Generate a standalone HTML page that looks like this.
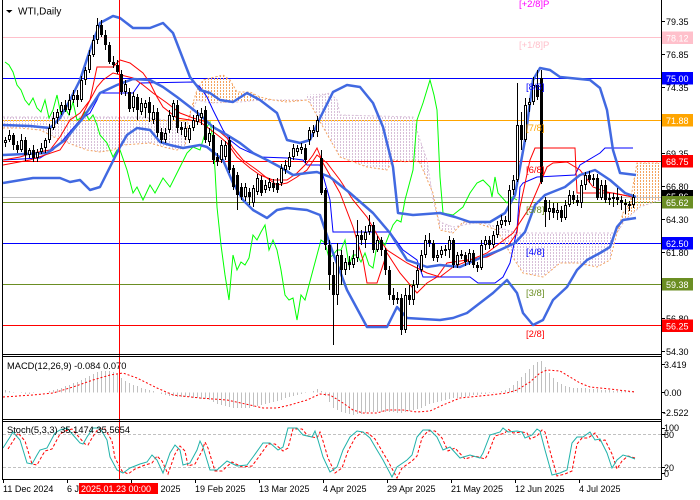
<!DOCTYPE html>
<html><head><meta charset="utf-8"><style>
html,body{margin:0;padding:0;background:#fff;}
svg{display:block;}
text{font-family:"Liberation Sans",sans-serif;}
</style></head><body>
<svg width="700" height="500" viewBox="0 0 700 500" xmlns="http://www.w3.org/2000/svg">
<defs>
<clipPath id="cm"><rect x="3" y="0" width="658" height="354"/></clipPath>
<clipPath id="cs"><rect x="3" y="422" width="658" height="57"/></clipPath>
<pattern id="pt" width="3" height="3" patternUnits="userSpaceOnUse"><rect x="1" y="0" width="1" height="2" fill="#d8bfd8"/></pattern>
<pattern id="po" width="3" height="3" patternUnits="userSpaceOnUse"><rect x="1" y="0" width="1" height="2" fill="#f4a460"/></pattern>
</defs>
<rect width="700" height="500" fill="#fff"/>

<g clip-path="url(#cm)">
<g stroke-width="1" shape-rendering="crispEdges">
<line x1="3" x2="661" y1="37.5" y2="37.5" stroke="#ffc0cb"/>
<line x1="3" x2="661" y1="78.5" y2="78.5" stroke="#0000ff"/>
<line x1="3" x2="661" y1="120.5" y2="120.5" stroke="#ffa500"/>
<line x1="3" x2="661" y1="161.5" y2="161.5" stroke="#ff0000"/>
<line x1="3" x2="661" y1="197.5" y2="197.5" stroke="#c0c0c0"/>
<line x1="3" x2="661" y1="202.5" y2="202.5" stroke="#6b8e23"/>
<line x1="3" x2="661" y1="243.5" y2="243.5" stroke="#0000ff"/>
<line x1="3" x2="661" y1="284.5" y2="284.5" stroke="#6b8e23"/>
<line x1="3" x2="661" y1="325.5" y2="325.5" stroke="#ff0000"/>
</g>
<!-- clouds -->
<polygon fill="url(#pt)" points="3,117 143,117 165,120 187,122 185,147 177,150 167,148 150,143 123,145 113,150 100,152 87,150 60,140 40,130 20,128 3,128"/>
<polygon fill="url(#po)" points="188,123 190,113 197,90 203,80 223,75 230,80 237,92 250,92 260,97 273,100 287,102 307,100 260,100 240,102 210,103 197,100"/>
<polygon fill="url(#pt)" points="305,95 330,93 337,100 340,115 413,117 420,140 427,160 433,200 437,215 440,222 440,230 433,193 420,163 413,160 407,162 393,160 387,170 367,167 340,157 323,127 310,103"/>
<polygon fill="url(#pt)" points="440,222 453,227 480,222 517,233 617,233 610,260 597,267 577,263 560,263 543,277 523,273 510,253 497,230 477,223 463,222 453,233 440,230"/>
<polygon fill="url(#po)" points="617,233 623,213 630,203 637,163 660,163 660,200 640,207 625,220"/>
<g fill="none" stroke-dasharray="2,2" stroke-width="1">
<polyline stroke="#d8bfd8" points="3,117 143,117 165,120 187,122 197,100 210,103 240,102 260,100 307,100 330,93 337,100 340,115 413,117 420,140 427,160 433,200 437,215 440,222 453,227 480,222 517,233 617,233 625,220 640,207 660,200"/>
<polyline stroke="#f4a460" points="3,128 20,128 40,130 60,140 87,150 100,152 113,150 123,145 150,143 167,148 177,150 185,147 188,123 190,113 197,90 203,80 223,75 230,80 237,92 250,92 260,97 273,100 287,102 307,100 310,103 323,127 340,157 367,167 387,170 393,160 407,162 413,160 420,163 433,193 440,230 453,233 463,222 477,223 497,230 510,253 523,273 543,277 560,263 577,263 597,267 610,260 617,233 623,213 630,203 637,163 660,163"/>
</g>
<!-- chikou -->
<polyline fill="none" stroke="#00ff00" stroke-width="1" points="5,62 9,65 13,72 17,85 21,90 25,100 29,105 33,98 37,108 41,112 45,100 49,118 53,110 57,95 61,115 65,108 69,115 73,102 77,120 81,118 85,112 89,120 93,115 97,125 100,135 107,143 113,157 117,150 120,150 127,170 133,193 137,187 143,200 150,185 155,193 163,178 170,187 180,167 187,153 193,147 200,150 207,127 210,122 213,140 215,170 217,207 221,245 225,275 229,300 233,255 237,270 241,262 245,265 249,258 253,235 257,240 261,232 265,225 269,250 273,240 277,250 281,270 285,295 289,300 293,298 297,320 301,295 305,300 309,285 313,270 317,255 321,240 325,243 329,258 333,255 337,250 341,250 345,240 349,265 353,255 357,255 361,262 365,253 369,265 373,268 377,245 381,240 385,245 389,235 393,225 397,220 401,222 405,200 409,185 413,170 417,120 423,103 430,80 434,95 437,110 440,177 443,213 453,215 463,207 470,193 477,183 483,180 490,187 492,197 495,177 498,193 507,203 512,197 517,200"/>
<!-- thin lines -->
<g fill="none" stroke-width="1">
<polyline stroke="#0000ff" points="3,160 40,158 53,150 63,140 80,120 90,113 97,100 100,93 133,93 140,83 193,82 200,87 207,97 213,110 223,130 230,140 240,148 260,157 287,158 303,160 307,165 320,165 330,200 333,232 390,232 403,250 417,260 423,277 470,277 478,283 495,283 503,277 510,263 517,230 520,187 523,183 537,177 575,175 580,165 600,153 605,148 633,148"/>
<polyline stroke="#ff0000" points="3,160 20,157 33,153 50,150 60,137 70,120 80,113 90,100 97,67 113,67 120,60 130,63 143,73 150,83 157,97 163,107 177,118 190,120 200,122 207,127 220,137 227,143 237,157 250,168 260,175 273,180 287,180 297,173 307,163 313,155 317,148 323,163 340,193 353,227 363,260 367,283 377,283 387,253 400,273 417,293 427,283 437,277 447,263 487,257 507,247 517,233 520,207 530,160 535,148 575,148 577,193 613,193 633,197"/>
<polyline stroke="#ff0000" points="3,165 30,160 60,150 80,120 90,100 97,87 103,80 113,73 133,78 143,85 153,93 167,103 180,113 193,118 207,122 220,132 227,138 233,148 243,160 257,170 267,178 277,185 287,183 297,177 307,170 317,155 327,163 340,180 353,200 367,217 380,240 387,250 407,263 427,273 440,277 453,267 487,253 513,233 530,207 547,167 553,163 567,162 580,170 593,187 607,192 633,197"/>
</g>
<!-- bollinger -->
<g fill="none" stroke="#4169e1" stroke-width="2.5" stroke-linejoin="round">
<polyline points="3,125 30,126 50,128 60,118 70,100 80,80 90,50 100,23 113,16 120,18 133,28 150,28 163,23 173,33 190,77 200,90 210,93 220,100 233,102 247,93 260,100 277,113 287,140 300,143 310,140 320,118 333,92 347,85 360,87 373,103 383,127 393,167 398,213 413,215 440,213 455,217 470,222 490,222 505,213 515,195 525,140 533,80 540,68 550,70 560,77 590,80 600,88 607,110 613,150 620,173 636,175"/>
<polyline points="3,155 47,153 65,140 83,118 100,93 117,85 133,79 150,80 163,87 177,97 190,107 200,115 213,127 227,135 240,143 253,153 267,160 280,167 293,175 307,173 317,172 330,177 350,193 373,213 390,233 407,260 427,267 440,265 460,267 480,258 500,250 515,243 525,232 535,205 545,195 565,187 580,175 595,170 610,180 625,193 636,197"/>
<polyline points="3,183 33,178 60,178 70,182 80,180 90,190 100,187 110,167 120,147 127,135 137,128 150,130 160,142 170,145 183,148 200,145 207,147 223,160 233,183 243,200 253,210 267,218 277,210 287,208 307,210 320,215 333,253 347,290 367,327 387,327 397,307 407,318 440,320 453,318 467,313 480,303 493,293 507,280 517,293 523,313 533,325 543,320 553,300 567,287 577,270 587,260 600,253 610,247 617,227 623,220 636,218"/>
</g>
<!-- candles -->
<path fill="none" stroke="#000" stroke-width="1" d="M5.5,137V147M9.5,130V142M13.5,133V150M17.5,141V153M21.5,134V152M25.5,137V161M29.5,148V158M33.5,145V162M37.5,149V162M41.5,143V154M45.5,138V153M49.5,124V143M53.5,112V130M57.5,109V124M61.5,102V115M65.5,100V112M69.5,94V115M73.5,90V103M77.5,90V107M81.5,76V102M85.5,67V85M89.5,50V73M93.5,35V57M97.5,18V44M101.5,20V37M105.5,30V50M109.5,42V64M113.5,56V68M117.5,60V74M121.5,70V95M125.5,80V96M129.5,88V112M133.5,92V112M137.5,94V120M141.5,98V115M145.5,100V118M149.5,97V122M153.5,105V124M157.5,108V137M161.5,128V143M165.5,128V143M169.5,110V133M173.5,100V120M177.5,100V133M181.5,122V135M185.5,122V140M189.5,125V143M193.5,115V131M197.5,110V125M201.5,108V125M205.5,106V143M209.5,128V146M213.5,125V164M217.5,153V166M221.5,140V163M225.5,141V160M229.5,137V173M233.5,165V190M237.5,172V210M241.5,183V200M245.5,183V201M249.5,188V205M253.5,185V207M257.5,174V195M261.5,176V196M265.5,180V193M269.5,178V191M273.5,179V192M277.5,178V193M281.5,164V186M285.5,160V174M289.5,152V170M293.5,144V160M297.5,145V156M301.5,143V154M305.5,144V163M309.5,127V145M313.5,125V137M317.5,116V137M321.5,150V195M325.5,188V250M329.5,240V290M333.5,262V345M337.5,243V305M341.5,250V285M345.5,258V275M349.5,256V270M353.5,250V268M357.5,220V262M361.5,230V245M365.5,226V248M369.5,215V235M373.5,222V253M377.5,236V252M381.5,237V256M385.5,248V275M389.5,266V300M393.5,288V305M397.5,292V304M401.5,294V335M405.5,288V333M409.5,285V305M413.5,280V305M417.5,265V288M421.5,250V272M425.5,235V258M429.5,233V247M433.5,240V261M437.5,250V262M441.5,246V258M445.5,245V256M449.5,236V258M453.5,238V268M457.5,252V268M461.5,250V259M465.5,252V266M469.5,249V265M473.5,250V268M477.5,262V272M481.5,240V270M485.5,236V250M489.5,236V249M493.5,231V248M497.5,221V238M501.5,215V228M505.5,216V226M509.5,185V225M513.5,175V195M517.5,83V182M521.5,112V150M525.5,98V142M529.5,98V112M533.5,77V105M537.5,70V100M541.5,70V184M545.5,197V227M549.5,200V220M553.5,203V218M557.5,203V220M561.5,206V222M565.5,200V220M569.5,190V207M573.5,191V204M577.5,195V206M581.5,180V208M585.5,172V190M589.5,171V183M593.5,174V186M597.5,174V200M601.5,180V200M605.5,180V203M609.5,193V205M613.5,193V207M617.5,188V205M621.5,196V210M625.5,199V214M629.5,201V211M633.5,194V208"/>
<path fill="#000" d="M12,135h3v10h-3zM16,145h3v5h-3zM24,140h3v15h-3zM32,150h3v8h-3zM64,105h3v5h-3zM76,95h3v5h-3zM100,25h3v10h-3zM104,35h3v10h-3zM108,45h3v17h-3zM112,62h3v3h-3zM116,65h3v7h-3zM120,74h3v18h-3zM128,92h3v17h-3zM136,97h3v13h-3zM148,102h3v11h-3zM156,112h3v21h-3zM160,132h3v8h-3zM176,105h3v23h-3zM180,127h3v3h-3zM204,110h3v30h-3zM212,135h3v25h-3zM216,157h3v5h-3zM228,140h3v30h-3zM232,168h3v19h-3zM236,175h3v20h-3zM240,187h3v10h-3zM248,192h3v5h-3zM260,180h3v13h-3zM272,183h3v5h-3zM276,183h3v7h-3zM304,148h3v12h-3zM320,158h3v35h-3zM324,190h3v55h-3zM328,245h3v30h-3zM332,275h3v20h-3zM340,255h3v15h-3zM348,262h3v3h-3zM360,235h3v5h-3zM372,225h3v25h-3zM380,240h3v10h-3zM384,250h3v20h-3zM388,270h3v25h-3zM392,295h3v5h-3zM400,298h3v32h-3zM408,295h3v5h-3zM428,240h3v3h-3zM432,243h3v15h-3zM444,249h3v2h-3zM452,240h3v25h-3zM460,254h3v2h-3zM464,255h3v7h-3zM472,253h3v12h-3zM476,265h3v3h-3zM488,240h3v5h-3zM504,220h3v2h-3zM520,125h3v15h-3zM536,85h3v12h-3zM540,78h3v104h-3zM544,200h3v12h-3zM552,208h3v5h-3zM560,210h3v8h-3zM572,195h3v5h-3zM576,200h3v3h-3zM588,175h3v5h-3zM596,178h3v20h-3zM604,185h3v15h-3zM612,197h3v2h-3zM616,197h3v3h-3zM620,200h3v3h-3zM624,203h3v2h-3zM628,204h3v2h-3z"/>
<path fill="#fff" stroke="#000" stroke-width="1" d="M4.5,140.5h2v2h-2zM8.5,135.5h2v4h-2zM20.5,140.5h2v9h-2zM28.5,150.5h2v4h-2zM36.5,152.5h2v5h-2zM40.5,148.5h2v3h-2zM44.5,140.5h2v7h-2zM48.5,128.5h2v11h-2zM52.5,118.5h2v9h-2zM56.5,112.5h2v5h-2zM60.5,105.5h2v6h-2zM68.5,100.5h2v9h-2zM72.5,95.5h2v4h-2zM80.5,80.5h2v19h-2zM84.5,70.5h2v9h-2zM88.5,55.5h2v14h-2zM92.5,40.5h2v14h-2zM96.5,25.5h2v14h-2zM124.5,84.5h2v7h-2zM132.5,96.5h2v11h-2zM140.5,103.5h2v8h-2zM144.5,103.5h2v4h-2zM152.5,112.5h2v7h-2zM164.5,133.5h2v6h-2zM168.5,115.5h2v14h-2zM172.5,103.5h2v13h-2zM184.5,128.5h2v8h-2zM188.5,128.5h2v11h-2zM192.5,120.5h2v7h-2zM196.5,115.5h2v6h-2zM200.5,113.5h2v4h-2zM208.5,133.5h2v8h-2zM220.5,145.5h2v14h-2zM224.5,145.5h2v11h-2zM244.5,187.5h2v9h-2zM252.5,188.5h2v14h-2zM256.5,178.5h2v13h-2zM264.5,185.5h2v4h-2zM268.5,182.5h2v5h-2zM280.5,168.5h2v14h-2zM284.5,165.5h2v4h-2zM288.5,157.5h2v9h-2zM292.5,148.5h2v8h-2zM296.5,148.5h2v3h-2zM300.5,147.5h2v2h-2zM308.5,130.5h2v9h-2zM312.5,130.5h2v2h-2zM316.5,120.5h2v11h-2zM336.5,255.5h2v39h-2zM344.5,262.5h2v7h-2zM352.5,258.5h2v6h-2zM356.5,235.5h2v22h-2zM364.5,232.5h2v7h-2zM368.5,225.5h2v6h-2zM376.5,240.5h2v9h-2zM396.5,298.5h2v1h-2zM404.5,295.5h2v34h-2zM412.5,285.5h2v14h-2zM416.5,270.5h2v14h-2zM420.5,255.5h2v14h-2zM424.5,240.5h2v14h-2zM436.5,255.5h2v2h-2zM440.5,250.5h2v4h-2zM448.5,240.5h2v9h-2zM456.5,255.5h2v9h-2zM468.5,253.5h2v8h-2zM480.5,245.5h2v22h-2zM484.5,240.5h2v4h-2zM492.5,235.5h2v9h-2zM496.5,225.5h2v9h-2zM500.5,220.5h2v4h-2zM508.5,190.5h2v31h-2zM512.5,180.5h2v9h-2zM516.5,125.5h2v54h-2zM524.5,105.5h2v34h-2zM528.5,102.5h2v2h-2zM532.5,85.5h2v16h-2zM548.5,208.5h2v3h-2zM556.5,210.5h2v2h-2zM564.5,205.5h2v12h-2zM568.5,195.5h2v9h-2zM580.5,185.5h2v17h-2zM584.5,175.5h2v9h-2zM592.5,178.5h2v1h-2zM600.5,185.5h2v12h-2zM608.5,198.5h2v1h-2zM632.5,197.5h2v7h-2z"/>
<g font-size="9.5">
<text x="519" y="7" fill="#ff00ff">[+2/8]P</text>
<text x="519" y="48" fill="#ffc0cb">[+1/8]P</text>
<text x="526" y="90" fill="#0000ff">[8/8]</text>
<text x="526" y="131" fill="#ffa500">[7/8]</text>
<text x="526" y="173" fill="#ff0000">[6/8]</text>
<text x="526" y="213" fill="#6b8e23">[5/8]</text>
<text x="526" y="255" fill="#0000ff">[4/8]</text>
<text x="526" y="296" fill="#6b8e23">[3/8]</text>
<text x="526" y="337" fill="#ff0000">[2/8]</text>
</g>
</g>

<polygon points="6,10 12.5,10 9.25,13" fill="#000"/>
<text x="18" y="14.5" font-size="10" fill="#000">WTI,Daily</text>

<!-- MACD -->
<path fill="none" stroke="#c0c0c0" stroke-width="1" d="M5.5,392.5V390M9.5,392.5V391M13.5,392.5V392M21.5,392.5V393M25.5,392.5V394M29.5,392.5V394M33.5,392.5V393M49.5,392.5V391M53.5,392.5V390M57.5,392.5V389M61.5,392.5V388M65.5,392.5V386M69.5,392.5V385M73.5,392.5V383M77.5,392.5V382M81.5,392.5V380M85.5,392.5V378M89.5,392.5V376M93.5,392.5V374M97.5,392.5V372M101.5,392.5V371M105.5,392.5V371M109.5,392.5V371M113.5,392.5V372M117.5,392.5V374M121.5,392.5V378M125.5,392.5V381M129.5,392.5V383M133.5,392.5V385M137.5,392.5V386M141.5,392.5V388M145.5,392.5V389M149.5,392.5V390M153.5,392.5V391M161.5,392.5V394M165.5,392.5V395M169.5,392.5V396M173.5,392.5V396M177.5,392.5V397M181.5,392.5V397M185.5,392.5V397M189.5,392.5V397M193.5,392.5V398M197.5,392.5V398M201.5,392.5V399M205.5,392.5V399M209.5,392.5V400M213.5,392.5V402M217.5,392.5V404M221.5,392.5V405M225.5,392.5V406M229.5,392.5V407M233.5,392.5V408M237.5,392.5V408M241.5,392.5V408M245.5,392.5V408M249.5,392.5V408M253.5,392.5V407M257.5,392.5V406M261.5,392.5V405M265.5,392.5V404M269.5,392.5V403M273.5,392.5V402M277.5,392.5V401M281.5,392.5V400M285.5,392.5V398M289.5,392.5V397M293.5,392.5V396M297.5,392.5V395M301.5,392.5V394M305.5,392.5V393M313.5,392.5V391M317.5,392.5V389M321.5,392.5V391M325.5,392.5V396M329.5,392.5V402M333.5,392.5V408M337.5,392.5V410M341.5,392.5V412M345.5,392.5V413M349.5,392.5V414M353.5,392.5V415M357.5,392.5V414M361.5,392.5V414M365.5,392.5V413M369.5,392.5V412M373.5,392.5V412M377.5,392.5V412M381.5,392.5V412M385.5,392.5V412M389.5,392.5V412M393.5,392.5V412M397.5,392.5V413M401.5,392.5V413M405.5,392.5V412M409.5,392.5V411M413.5,392.5V410M417.5,392.5V409M421.5,392.5V408M425.5,392.5V406M429.5,392.5V404M433.5,392.5V403M437.5,392.5V402M441.5,392.5V401M445.5,392.5V400M449.5,392.5V399M453.5,392.5V398M457.5,392.5V398M461.5,392.5V397M465.5,392.5V397M469.5,392.5V396M473.5,392.5V395M477.5,392.5V395M481.5,392.5V394M485.5,392.5V394M489.5,392.5V393M493.5,392.5V393M501.5,392.5V391M505.5,392.5V390M509.5,392.5V388M513.5,392.5V385M517.5,392.5V381M521.5,392.5V377M525.5,392.5V373M529.5,392.5V369M533.5,392.5V365M537.5,392.5V362M541.5,392.5V361M545.5,392.5V367M549.5,392.5V373M553.5,392.5V378M557.5,392.5V382M561.5,392.5V384M565.5,392.5V386M569.5,392.5V387M573.5,392.5V388M577.5,392.5V388M581.5,392.5V388M585.5,392.5V388M589.5,392.5V389M593.5,392.5V389M597.5,392.5V389M601.5,392.5V390M605.5,392.5V390M609.5,392.5V390M613.5,392.5V391M617.5,392.5V391M621.5,392.5V391M625.5,392.5V391M629.5,392.5V391M633.5,392.5V391"/>
<polyline fill="none" stroke="#ff0000" stroke-width="1" stroke-dasharray="2,2" points="3,397 33,395 53,393 73,387 93,380 110,375 123,373 137,378 157,388 173,395 200,398 227,400 250,405 263,408 277,408 290,405 307,400 320,394 330,395 343,403 353,410 363,413 377,413 387,410 403,410 417,412 430,411 443,405 460,398 480,396 490,395 507,393 517,390 530,382 540,373 547,370 560,371 570,377 580,383 590,387 610,389 635,392"/>
<text x="7" y="369" font-size="9.3" fill="#000">MACD(12,26,9) -0.084 0.070</text>

<!-- Stoch -->
<g stroke="#c0c0c0" stroke-width="1" stroke-dasharray="3,2" shape-rendering="crispEdges">
<line x1="3" x2="661" y1="434.5" y2="434.5"/>
<line x1="3" x2="661" y1="467.5" y2="467.5"/>
</g>
<g clip-path="url(#cs)" fill="none" stroke-width="1">
<polyline stroke="#ff0000" stroke-dasharray="3,2" transform="translate(5,1)" points="3,448 10,437 13,432 20,440 27,463 32,464 37,455 40,450 47,448 55,433 60,430 67,428 73,435 80,443 83,444 87,437 93,428 100,428 107,440 110,457 117,470 123,473 130,468 140,464 147,462 152,455 157,460 163,473 170,453 175,445 180,450 183,465 190,463 197,450 200,441 203,447 210,470 217,470 227,461 237,466 247,465 253,457 263,443 270,443 278,450 283,447 288,428 297,428 303,435 312,437 315,431 318,440 323,457 330,472 337,467 343,450 350,437 357,431 363,432 370,438 377,450 383,460 392,477 397,467 407,460 412,455 417,437 423,430 430,430 437,437 443,450 450,447 460,458 470,455 480,458 483,453 490,435 500,432 503,428 508,432 517,431 522,432 525,438 532,435 537,429 540,431 545,450 552,475 560,473 567,470 572,443 577,437 583,437 590,432 595,440 600,439 607,453 612,468 617,460 623,455 630,457"/>
<polyline stroke="#20b2aa" points="3,448 10,437 13,432 20,440 27,463 32,464 37,455 40,450 47,448 55,433 60,430 67,428 73,435 80,443 83,444 87,437 93,428 100,428 107,440 110,457 117,470 123,473 130,468 140,464 147,462 152,455 157,460 163,473 170,453 175,445 180,450 183,465 190,463 197,450 200,441 203,447 210,470 217,470 227,461 237,466 247,465 253,457 263,443 270,443 278,450 283,447 288,428 297,428 303,435 312,437 315,431 318,440 323,457 330,472 337,467 343,450 350,437 357,431 363,432 370,438 377,450 383,460 392,477 397,467 407,460 412,455 417,437 423,430 430,430 437,437 443,450 450,447 460,458 470,455 480,458 483,453 490,435 500,432 503,428 508,432 517,431 522,432 525,438 532,435 537,429 540,431 545,450 552,475 560,473 567,470 572,443 577,437 583,437 590,432 595,440 600,439 607,453 612,468 617,460 623,455 630,457 635,459"/>
</g>
<text x="7" y="433" font-size="9.3" fill="#000">Stoch(5,3,3) 35.1474 35.5654</text>

<line x1="119.5" x2="119.5" y1="0" y2="479" stroke="#ff0000" stroke-width="1"/>

<g stroke="#000" stroke-width="1" shape-rendering="crispEdges">
<line x1="2.5" x2="2.5" y1="0" y2="480"/>
<line x1="661.5" x2="661.5" y1="0" y2="480"/>
<line x1="2.5" x2="661.5" y1="354.5" y2="354.5"/>
<line x1="2.5" x2="661.5" y1="356.5" y2="356.5"/>
<line x1="2.5" x2="661.5" y1="419.5" y2="419.5"/>
<line x1="2.5" x2="661.5" y1="421.5" y2="421.5"/>
<line x1="2.5" x2="661.5" y1="479.5" y2="479.5"/>
<path d="M661,21.5h4M661,54.5h4M661,87.5h4M661,153.5h4M661,186.5h4M661,219.5h4M661,252.5h4M661,318.5h4M661,351.5h4M661,364.5h4M661,392.5h4M661,412.5h4M661,428.5h4M661,434.5h4M661,467.5h4M661,473.5h4"/>
<path d="M3.5,479v4M67.5,479v4M131.5,479v4M195.5,479v4M259.5,479v4M323.5,479v4M387.5,479v4M451.5,479v4M515.5,479v4M579.5,479v4"/>
</g>

<g font-size="9" fill="#000">
<text x="666" y="25">79.35</text>
<text x="666" y="58">76.85</text>
<text x="666" y="91">74.35</text>
<text x="666" y="157">69.35</text>
<text x="666" y="190">66.80</text>
<text x="666" y="223">64.30</text>
<text x="666" y="256">61.80</text>
<text x="666" y="322">56.80</text>
<text x="666" y="355">54.30</text>
<text x="664" y="368">3.419</text>
<text x="664" y="396">0.00</text>
<text x="663" y="416">-2.522</text>
<text x="664" y="431">100</text>
<text x="664" y="438">80</text>
<text x="664" y="471">20</text>
<text x="664" y="477">0</text>
</g>
<g font-size="9" fill="#fff">
<rect x="662" y="31.5" width="31" height="12.5" fill="#ffc0cb"/><text x="666" y="41.5">78.12</text>
<rect x="662" y="72" width="31" height="12.5" fill="#0000ff"/><text x="666" y="82">75.00</text>
<rect x="662" y="114" width="31" height="12.5" fill="#ffa500"/><text x="666" y="124">71.88</text>
<rect x="662" y="155" width="31" height="12.5" fill="#ff0000"/><text x="666" y="165">68.75</text>
<rect x="662" y="190" width="31" height="12.5" fill="#000"/><text x="666" y="200">65.86</text>
<rect x="662" y="196" width="31" height="12.5" fill="#6b8e23"/><text x="666" y="206">65.62</text>
<rect x="662" y="237" width="31" height="12.5" fill="#0000ff"/><text x="666" y="247">62.50</text>
<rect x="662" y="278" width="31" height="12.5" fill="#6b8e23"/><text x="666" y="288">59.38</text>
<rect x="662" y="319.5" width="31" height="12.5" fill="#ff0000"/><text x="666" y="329.5">56.25</text>
</g>

<g font-size="9" fill="#000">
<text x="3" y="492">11 Dec 2024</text>
<text x="67" y="492">6 Jan 2025</text>
<text x="131" y="492">28 Jan 2025</text>
<text x="195" y="492">19 Feb 2025</text>
<text x="259" y="492">13 Mar 2025</text>
<text x="323" y="492">4 Apr 2025</text>
<text x="387" y="492">29 Apr 2025</text>
<text x="451" y="492">21 May 2025</text>
<text x="515" y="492">12 Jun 2025</text>
<text x="579" y="492">4 Jul 2025</text>
</g>
<rect x="79" y="483" width="79" height="11" fill="#ff0000"/>
<text x="81" y="492" font-size="9" fill="#fff">2025.01.23 00:00</text>
</svg>
</body></html>
